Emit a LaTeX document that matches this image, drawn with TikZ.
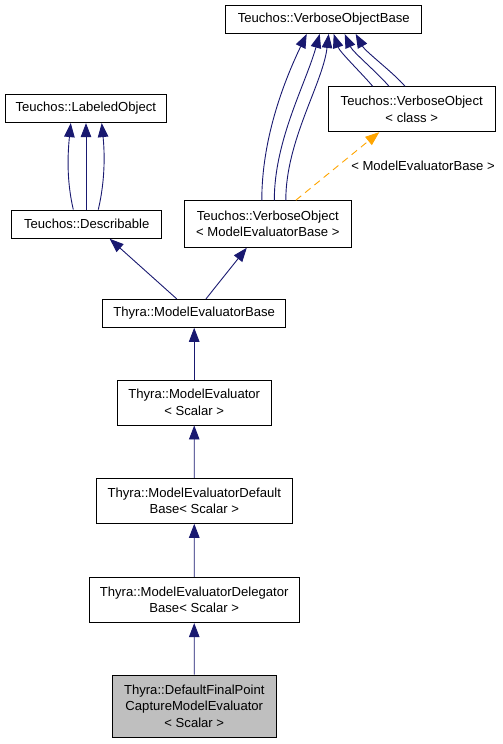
\documentclass[tikz,border=0pt]{standalone}
\usepackage{fontspec}
\setmainfont{Liberation Sans}
\usepackage{tikz}
\usetikzlibrary{arrows.meta}
\definecolor{edgeblue}{HTML}{191970}
\definecolor{edgeorange}{HTML}{FFA500}
\definecolor{boxgray}{HTML}{BFBFBF}

\begin{document}
\begin{tikzpicture}[x=1pt, y=-1pt,
  cls/.style={rectangle, draw, line width=.9pt, inner sep=0pt, align=center, font=\fontsize{13.1}{16.6}\selectfont},
  inh/.style={draw=edgeblue, line width=.9pt, -{Triangle[length=14pt, width=10.5pt, fill=edgeblue]}},
  tmpl/.style={draw=edgeorange, line width=.9pt, dash pattern=on 7pt off 5pt, -{Triangle[length=14pt, width=10.5pt, fill=edgeorange]}},
  lbl/.style={font=\fontsize{13.1}{16.6}\selectfont, inner sep=0pt}]
  \useasboundingbox (0,0) rectangle (503,744);
  \node[cls, minimum width=196pt, minimum height=28pt] (vob) at (323.7, 19.5) {Teuchos::VerboseObjectBase};
  \node[cls, minimum width=166.7pt, minimum height=45pt] (voclass) at (411.7, 109.2) {Teuchos::VerboseObject\\< class >};
  \node[cls, minimum width=167.7pt, minimum height=46.6pt] (vomeb) at (267.8, 224) {Teuchos::VerboseObject\\< ModelEvaluatorBase >};
  \node[cls, minimum width=161.7pt, minimum height=28.7pt] (lo) at (85.8, 108.3) {Teuchos::LabeledObject};
  \node[cls, minimum width=150pt, minimum height=28.3pt] (desc) at (86.7, 224.2) {Teuchos::Describable};
  \node[cls, minimum width=183pt, minimum height=28pt] (meb) at (194.2, 313.3) {Thyra::ModelEvaluatorBase};
  \node[cls, minimum width=153.7pt, minimum height=45pt] (me) at (194.2, 402.5) {Thyra::ModelEvaluator\\< Scalar >};
  \node[cls, minimum width=195.3pt, minimum height=45pt] (medb) at (194.3, 500.8) {Thyra::ModelEvaluatorDefault\\Base< Scalar >};
  \node[cls, minimum width=210.3pt, minimum height=45.3pt] (medelb) at (194.2, 600) {Thyra::ModelEvaluatorDelegator\\Base< Scalar >};
  \node[cls, fill=boxgray, minimum width=163.3pt, minimum height=62.7pt] (fpc) at (194.3, 706.3) {Thyra::DefaultFinalPoint\\CaptureModelEvaluator\\< Scalar >};
  \node[lbl] (tlabel) at (423, 166) {< ModelEvaluatorBase >};
  \draw[inh] ([xshift=-6pt]vomeb.north) .. controls +(0,-60) and +(-24,50) .. ([xshift=-17pt]vob.south);
  \draw[inh] ([xshift=6.5pt]vomeb.north) .. controls +(0,-60) and +(-14,50) .. ([xshift=-4pt]vob.south);
  \draw[inh] ([xshift=18pt]vomeb.north) .. controls +(0,-60) and +(-6,50) .. ([xshift=5pt]vob.south);
  \draw[inh] ([xshift=-39pt]voclass.north) .. controls +(-12,-14) and +(6,18) .. ([xshift=10pt]vob.south);
  \draw[inh] ([xshift=-22.7pt]voclass.north) .. controls +(-12,-14) and +(8,18) .. ([xshift=21pt]vob.south);
  \draw[inh] ([xshift=-6.7pt]voclass.north) .. controls +(-12,-14) and +(10,18) .. ([xshift=32pt]vob.south);
  \draw[tmpl] ([xshift=28pt]vomeb.north) -- ([xshift=-32.4pt]voclass.south);
  \draw[inh] ([xshift=-13.4pt]desc.north) .. controls +(-7,-30) and +(-3,30) .. ([xshift=-15pt]lo.south);
  \draw[inh] ([xshift=-.7pt]desc.north) -- ([xshift=.2pt]lo.south);
  \draw[inh] ([xshift=11.6pt]desc.north) .. controls +(7,-30) and +(3,30) .. ([xshift=15.9pt]lo.south);
  \draw[inh] ([xshift=-17.5pt]meb.north) -- ([xshift=23pt]desc.south);
  \draw[inh] ([xshift=11.8pt]meb.north) -- ([xshift=-21pt]vomeb.south);
  \draw[inh] (me) -- (meb);
  \draw[inh] (medb) -- (me);
  \draw[inh] (medelb) -- (medb);
  \draw[inh] (fpc) -- (medelb);
\end{tikzpicture}
\end{document}
